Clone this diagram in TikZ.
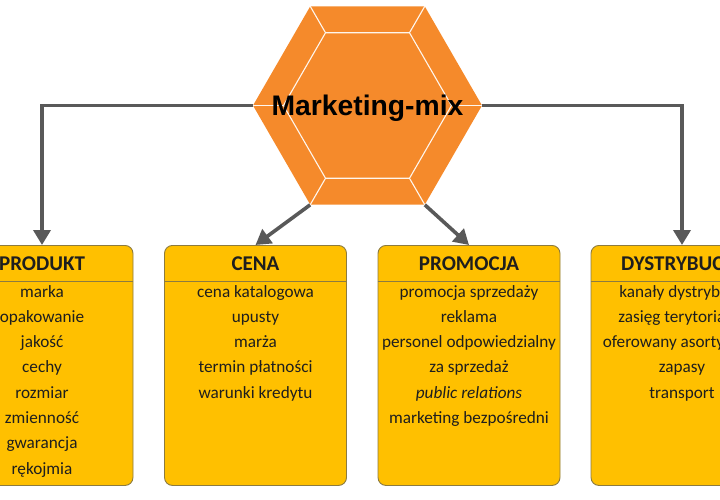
\documentclass[tikz,border=0pt]{standalone}
\usepackage{fontspec}
\setmainfont{Carlito}
\newfontfamily\arialfont{Liberation Sans}
\usetikzlibrary{arrows.meta,shapes.geometric,calc}
\definecolor{hexorange}{HTML}{F58A2B}
\definecolor{boxgold}{HTML}{FFC000}
\definecolor{boxedge}{HTML}{8C7B40}
\definecolor{arrowgray}{HTML}{595959}
\definecolor{textdark}{HTML}{1E1E1E}

\begin{document}
\begin{tikzpicture}[x=1pt,y=-1pt,
  hexa/.style={regular polygon,regular polygon sides=6,inner sep=0pt},
  bevel/.style={draw=white!92!hexorange,line width=1.1pt},
  mixbox/.style={rounded corners=8pt,draw=boxedge,fill=boxgold,line width=0.9pt,
    minimum width=182pt,minimum height=240pt,anchor=north,inner sep=0pt},
  head/.style={anchor=base,font=\fontsize{21}{24}\selectfont\bfseries,text=textdark},
  item/.style={anchor=base,font=\fontsize{17.2}{20}\selectfont,text=textdark,inner sep=0pt},
  rule/.style={draw=boxedge,line width=0.9pt},
  link/.style={-{Triangle[length=15pt,width=17pt]},line width=3.6pt,arrowgray}]
\useasboundingbox (0,0) rectangle (720,500);
\clip (0,0) rectangle (720,500);

% centre hexagon
\node[hexa,fill=hexorange,minimum size=229pt] (hex) at (367.5,105.5) {};
\node[hexa,bevel,minimum size=168pt] (hexin) at (hex.center) {};
\foreach \k in {1,...,6}
  \draw[bevel] (hexin.corner \k) -- (hex.corner \k);
\node[font=\arialfont\fontsize{28.3}{30}\selectfont\bfseries,anchor=base] (mix)
  at (367.5,115.5) {Marketing-mix};

% four boxes
\node[mixbox] (prod) at (42,245) {};
\node[mixbox] (cena) at (255.5,245) {};
\node[mixbox] (prom) at (469,245) {};
\node[mixbox] (dyst) at (682,245) {};
\foreach \b in {prod,cena,prom,dyst}
  \draw[rule] ([yshift=-36pt]\b.north west) -- ([yshift=-36pt]\b.north east);

\node[head] (prodh) at ([yshift=-25.5pt]prod.north) {PRODUKT};
\node[head] (cenah) at ([yshift=-25.5pt]cena.north) {CENA};
\node[head] (promh) at ([yshift=-25.5pt]prom.north) {PROMOCJA};
\node[head] (dysth) at ([yshift=-25.5pt]dyst.north) {DYSTRYBUCJA};

\foreach \t [count=\i] in {marka,opakowanie,jakość,cechy,rozmiar,zmienność,gwarancja,rękojmia}
  \node[item] (prod\i) at ([yshift={-52pt-(\i-1)*25.3pt}]prod.north) {\t};
\foreach \t [count=\i] in {cena katalogowa,upusty,marża,termin płatności,warunki kredytu}
  \node[item] (cena\i) at ([yshift={-52pt-(\i-1)*25.3pt}]cena.north) {\t};
\foreach \t [count=\i] in {promocja sprzedaży,reklama,personel odpowiedzialny,za sprzedaż,{\itshape public relations},marketing bezpośredni}
  \node[item] (prom\i) at ([yshift={-52pt-(\i-1)*25.3pt}]prom.north) {\t};
\foreach \t [count=\i] in {kanały dystrybucji,zasięg terytorialny,oferowany asortyment,zapasy,transport}
  \node[item] (dyst\i) at ([yshift={-52pt-(\i-1)*25.3pt}]dyst.north) {\t};

% arrows
\draw[link] (hex.west) -| (prod.north);
\draw[link] (hex.east) -| (dyst.north);
\draw[link] (hex.240) -- (cena.north);
\draw[link] (hex.300) -- (prom.north);
\end{tikzpicture}
\end{document}
